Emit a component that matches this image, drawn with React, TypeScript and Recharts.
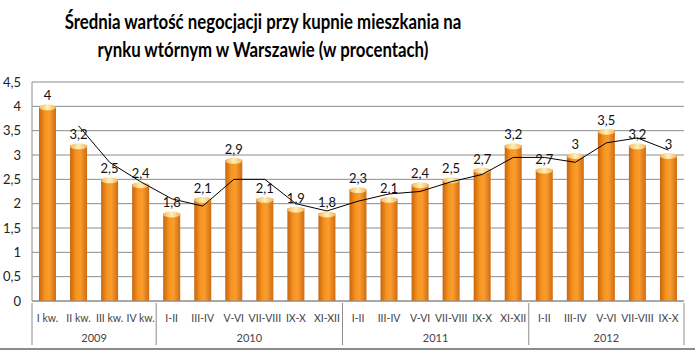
import React from "react";
import {
  ComposedChart,
  Bar,
  Line,
  XAxis,
  YAxis,
  CartesianGrid,
  LabelList
} from "recharts";

const periods = [
  "I kw.", "II kw.", "III kw.", "IV kw.",
  "I-II", "III-IV", "V-VI", "VII-VIII", "IX-X", "XI-XII",
  "I-II", "III-IV", "V-VI", "VII-VIII", "IX-X", "XI-XII",
  "I-II", "III-IV", "V-VI", "VII-VIII", "IX-X"
];
const values = [4, 3.2, 2.5, 2.4, 1.8, 2.1, 2.9, 2.1, 1.9, 1.8, 2.3, 2.1, 2.4, 2.5, 2.7, 3.2, 2.7, 3, 3.5, 3.2, 3];
// trend line (2-period moving average as drawn in the original)
const trend = [null, 3.6, 2.85, 2.45, 2.1, 1.95, 2.5, 2.5, 2.0, 1.85, 2.05, 2.2, 2.25, 2.45, 2.6, 2.95, 2.95, 2.85, 3.25, 3.35, 3.1];
const years = ["2009", "2010", "2011", "2012"];
const yearSizes = [4, 6, 6, 5];
const yTicks = [0, 0.5, 1, 1.5, 2, 2.5, 3, 3.5, 4, 4.5];

const W = 695;
const H = 351;
const margin = { top: 82, right: 11, bottom: 0, left: 0 };
const yAxisWidth = 32;
const band = (W - margin.left - margin.right - yAxisWidth) / periods.length;
const smallFont = "Lato, sans-serif";

const data = periods.map((p, i) => ({ period: p, value: values[i], trend: trend[i] }));

const groupStarts: number[] = [];
yearSizes.reduce((acc, n) => {
  groupStarts.push(acc);
  return acc + n;
}, 0);

const fmt = (v: any) => String(v).replace(".", ",");

const CylBar = (props: any) => {
  const { x, y, width, height } = props;
  if (!height || height <= 0) return null;
  return (
    <g>
      <rect x={x} y={y} width={width} height={height} fill="url(#barGrad)" />
      <ellipse cx={x + width / 2} cy={y + 1} rx={width / 2} ry={3} fill="url(#capGrad)" />
    </g>
  );
};

const XTick = (props: any) => {
  const { x, y, index, payload } = props;
  const g = groupStarts.indexOf(index);
  const lastIndex = periods.length - 1;
  const top = y;
  const bottom = y + 42;
  return (
    <g>
      <text x={x} y={y + 19} textAnchor="middle" fontSize={10.5} fill="#444" fontFamily={smallFont}>
        {payload.value}
      </text>
      {g >= 0 && (
        <>
          <line x1={x - band / 2} x2={x - band / 2} y1={top} y2={bottom} stroke="#8c8c8c" />
          <text
            x={x - band / 2 + (yearSizes[g] * band) / 2}
            y={y + 39}
            textAnchor="middle"
            fontSize={11}
            fill="#444"
            fontFamily={smallFont}
          >
            {years[g]}
          </text>
        </>
      )}
      {index === lastIndex && (
        <line x1={x + band / 2} x2={x + band / 2} y1={top} y2={bottom} stroke="#8c8c8c" />
      )}
    </g>
  );
};

const App: React.FC = () => {
  return (
    <div style={{ position: "absolute", left: 0, top: 0, width: W, height: H, background: "#fff" }}>
      <div
        style={{
          position: "absolute",
          left: 0,
          top: 7,
          width: 526,
          textAlign: "center",
          fontFamily: "Lato, sans-serif",
          fontWeight: 700,
          fontSize: 21,
          lineHeight: "28px",
          color: "#000",
          transform: "scaleX(0.8)",
          transformOrigin: "263px 0"
        }}
      >
        Średnia wartość negocjacji przy kupnie mieszkania na
        <br />
        rynku wtórnym w Warszawie (w procentach)
      </div>
      <div style={{ position: "absolute", left: 0, top: 0 }}>
        <ComposedChart width={W} height={H} data={data} margin={margin}>
          <defs>
            <linearGradient id="barGrad" x1="0" y1="0" x2="1" y2="0">
              <stop offset="0%" stopColor="#c8650e" />
              <stop offset="35%" stopColor="#f7941f" />
              <stop offset="60%" stopColor="#fa9d2e" />
              <stop offset="100%" stopColor="#cf6c12" />
            </linearGradient>
            <linearGradient id="capGrad" x1="0" y1="0" x2="1" y2="0">
              <stop offset="0%" stopColor="#f3b560" />
              <stop offset="50%" stopColor="#fff0b8" />
              <stop offset="100%" stopColor="#f3b560" />
            </linearGradient>
          </defs>
          <CartesianGrid vertical={false} stroke="#8c8c8c" />
          <XAxis
            dataKey="period"
            interval={0}
            height={50}
            tickLine={false}
            tickSize={0}
            axisLine={{ stroke: "#8c8c8c" }}
            tick={<XTick />}
          />
          <YAxis
            width={yAxisWidth}
            domain={[0, 4.5]}
            ticks={yTicks}
            tickFormatter={fmt}
            tickLine={false}
            tickSize={0}
            tickMargin={11}
            axisLine={{ stroke: "#8c8c8c" }}
            tick={{ fontSize: 13, fill: "#222", fontFamily: smallFont }}
          />
          <Bar dataKey="value" barSize={17} shape={<CylBar />} isAnimationActive={false}>
            <LabelList
              dataKey="value"
              position="top"
              offset={6}
              formatter={fmt}
              style={{ fontSize: 13, fill: "#111", fontFamily: smallFont }}
            />
          </Bar>
          <Line
            dataKey="trend"
            stroke="#000"
            strokeWidth={1}
            dot={false}
            activeDot={false}
            type="linear"
            isAnimationActive={false}
          />
        </ComposedChart>
      </div>
      <div style={{ position: "absolute", left: 0, top: 348, width: W, height: 2, background: "#8c8c8c" }} />
    </div>
  );
};

export default App;
